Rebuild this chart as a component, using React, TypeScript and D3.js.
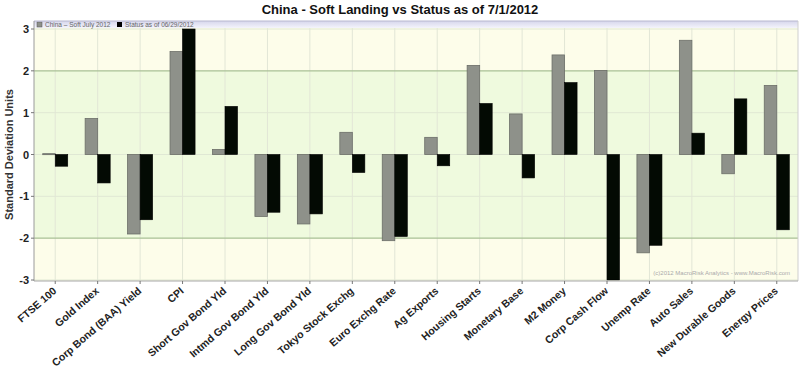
import React from "react";
import * as d3 from "d3";

const categories = [
  "FTSE 100", "Gold Index", "Corp Bond (BAA) Yield", "CPI", "Short Gov Bond Yld",
  "Intmd Gov Bond Yld", "Long Gov Bond Yld", "Tokyo Stock Exchg", "Euro Exchg Rate",
  "Ag Exports", "Housing Starts", "Monetary Base", "M2 Money", "Corp Cash Flow",
  "Unemp Rate", "Auto Sales", "New Durable Goods", "Energy Prices",
];
const softJuly = [0.02, 0.86, -1.9, 2.46, 0.12, -1.48, -1.66, 0.53, -2.06, 0.41, 2.13, 0.97, 2.38, 2.01, -2.35, 2.73, -0.46, 1.65];
const status0629 = [-0.28, -0.68, -1.56, 3.0, 1.15, -1.38, -1.42, -0.43, -1.96, -0.27, 1.22, -0.56, 1.72, -3.0, -2.17, 0.51, 1.33, -1.8];
const yTicks = [-3, -2, -1, 0, 1, 2, 3];
const seriesNames = ["China – Soft July 2012", "Status as of 06/29/2012"];

const W = 800, H = 369;
const L = 34, R = 798, T = 21, B = 281;

export default function App() {
  const y = d3.scaleLinear().domain([-3, 3]).range([280, 29]);
  const x = d3.scaleBand<string>().domain(categories).range([L, R]).padding(0);
  const bw = x.bandwidth();
  const barW = bw * 0.295;
  const cx = (c: string) => (x(c) as number) + bw / 2;
  const font = "Liberation Sans, Arial, sans-serif";

  return (
    <svg width={W} height={H} style={{ position: "absolute", left: 0, top: 0, background: "#fff" }} fontFamily={font}>
      <defs>
        <linearGradient id="lg" x1="0" y1="0" x2="0" y2="1">
          <stop offset="0" stopColor="#d6d6ec" />
          <stop offset="1" stopColor="#f4f4fb" />
        </linearGradient>
        <clipPath id="pc">
          <rect x={L} y={T} width={R - L} height={B - T} />
        </clipPath>
      </defs>
      <text x={W / 2} y={14} textAnchor="middle" fontSize={13} fontWeight="bold" fill="#111">
        China - Soft Landing vs Status as of 7/1/2012
      </text>
      {/* backgrounds */}
      <rect x={L} y={T} width={R - L} height={B - T} fill="#fdfdea" />
      <rect x={L} y={y(2)} width={R - L} height={y(-2) - y(2)} fill="#effade" />
      <rect x={L} y={T} width={R - L} height={7} fill="url(#lg)" />
      {/* vertical grid */}
      {categories.map((c) => (
        <line key={c} x1={cx(c)} x2={cx(c)} y1={T + 7} y2={B} stroke="#e2e6d6" strokeWidth={1} />
      ))}
      {/* horizontal grid */}
      {yTicks.map((t) => (
        <line key={t} x1={L} x2={R} y1={y(t)} y2={y(t)}
          stroke={Math.abs(t) === 2 ? "#a9c196" : "#e0e8d4"} strokeWidth={Math.abs(t) === 2 ? 1.2 : 1} />
      ))}
      <g clipPath="url(#pc)">
        {categories.map((c, i) => {
          const v1 = softJuly[i], v2 = status0629[i];
          return (
            <g key={c}>
              <rect x={cx(c) - barW} y={y(Math.max(0, v1))} width={barW} height={Math.max(1, Math.abs(y(v1) - y(0)))}
                fill="#8e918a" stroke="#6b6e68" strokeWidth={0.8} />
              <rect x={cx(c)} y={y(Math.max(0, v2))} width={barW} height={Math.abs(y(v2) - y(0))}
                fill="#030a03" stroke="#000" strokeWidth={0.6} />
            </g>
          );
        })}
      </g>
      {/* legend */}
      <rect x={37} y={22} width={5} height={5} fill="#8e918a" stroke="#555" strokeWidth={0.5} />
      <text x={45} y={27} fontSize={6.5} fill="#666">{seriesNames[0]}</text>
      <rect x={117} y={22} width={5} height={5} fill="#000" />
      <text x={125} y={27} fontSize={6.5} fill="#666">{seriesNames[1]}</text>
      {/* copyright */}
      <text x={790} y={275} textAnchor="end" fontSize={6} fill="#aaa">(c)2012 MacroRisk Analytics - www.MacroRisk.com</text>
      {/* frame */}
      <line x1={L} x2={R} y1={T} y2={T} stroke="#b8b8d0" />
      <line x1={R} x2={R} y1={T} y2={B} stroke="#cfcfcf" />
      <line x1={L} x2={R} y1={B} y2={B} stroke="#a8a8a8" />
      <line x1={L} x2={L} y1={T} y2={B} stroke="#9a9a9a" />
      {/* y axis */}
      {yTicks.map((t) => (
        <g key={t}>
          <line x1={L - 3} x2={L} y1={y(t)} y2={y(t)} stroke="#777" />
          <text x={L - 5} y={y(t) + 4} textAnchor="end" fontSize={11} fontWeight="bold" fill="#222">{t}</text>
        </g>
      ))}
      <text transform={`translate(13,${y(0)}) rotate(-90)`} textAnchor="middle" fontSize={11} fontWeight="bold" fill="#333">
        Standard Deviation Units
      </text>
      {/* x axis */}
      {categories.map((c) => (
        <g key={c}>
          <line x1={cx(c)} x2={cx(c)} y1={B} y2={B + 3} stroke="#777" />
          <text transform={`translate(${cx(c) + 2},${B + 11}) rotate(-41)`} textAnchor="end" fontSize={10.5} fontWeight="bold" fill="#222">
            {c}
          </text>
        </g>
      ))}
    </svg>
  );
}
